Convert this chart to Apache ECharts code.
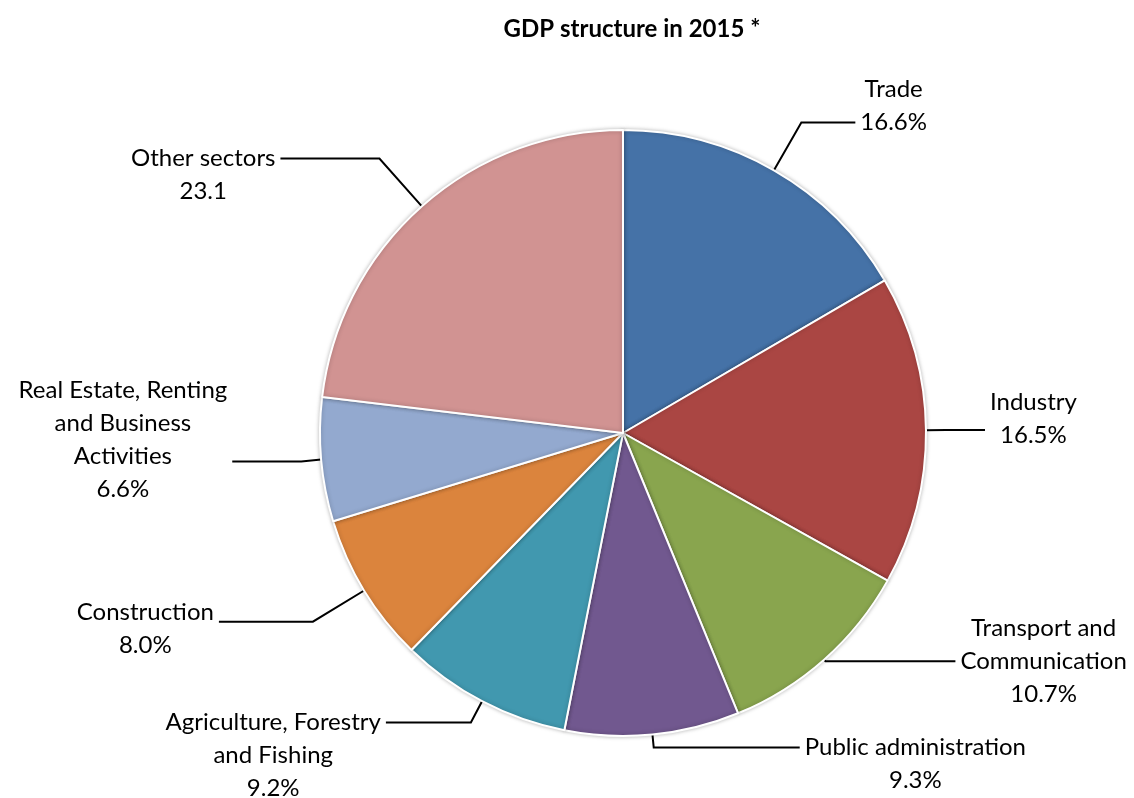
<!DOCTYPE html>
<html>
<head>
<meta charset="utf-8">
<script src="https://cdn.jsdelivr.net/npm/echarts@6/dist/echarts.min.js"></script>
<style>
html,body{margin:0;padding:0;background:#fff;}
#chart{width:1134px;height:798px;}
</style>
</head>
<body>
<div id="chart"></div>
<script>
var categories = ['Trade', 'Industry', 'Transport and\nCommunication', 'Public administration',
  'Agriculture, Forestry\nand Fishing', 'Construction', 'Real Estate, Renting\nand Business\nActivities', 'Other sectors'];
var values = [16.6, 16.5, 10.7, 9.3, 9.2, 8.0, 6.6, 23.1];
var valueSuffix = ['%', '%', '%', '%', '%', '%', '%', ''];
var colors = ['#4572A7', '#AA4643', '#89A54E', '#71588F', '#4198AF', '#DB843D', '#93A9CF', '#D19392'];

// label leader-line layout (style only)
var lineLen = [[55, 54], [20, 39], [2, 130], [13, 146], [24, 85], [60, 94], [20, 69], [64, 99]];
var labelPad = [[0,0,33,0], [0,0,23,0], [0,0,0,0], [33,0,0,0], [66,0,0,0], [15,0,0,0], [0,0,44,0], [33,0,0,0]];

var FONT = 'Lato';
var chart = echarts.init(document.getElementById('chart'), null, {renderer: 'canvas'});
var data = categories.map(function (c, i) {
  return {
    name: c,
    value: values[i],
    itemStyle: {color: colors[i]},
    label: {padding: labelPad[i]},
    labelLine: {length: lineLen[i][0], length2: lineLen[i][1]}
  };
});
chart.setOption({
  animation: false,
  title: {
    text: 'GDP structure in 2015 *',
    left: 627,
    textAlign: 'center',
    top: 12,
    textStyle: {fontFamily: FONT, fontWeight: 'bold', fontSize: 24, color: '#000'}
  },
  series: [{
    type: 'pie',
    center: [623, 433],
    radius: 303,
    startAngle: 90,
    clockwise: true,
    avoidLabelOverlap: false,
    labelLayout: {hideOverlap: false, moveOverlap: false},
    data: data,
    itemStyle: {borderColor: '#fff', borderWidth: 2, shadowBlur: 4, shadowColor: 'rgba(0,0,0,0.25)'},
    label: {
      show: true,
      position: 'outside',
      distanceToLabelLine: 5,
      color: '#000',
      fontFamily: FONT,
      fontSize: 24,
      lineHeight: 33,
      formatter: function (p) {
        var lines = p.name.split('\n');
        lines.push(p.value.toFixed(1) + valueSuffix[p.dataIndex]);
        return lines.map(function (s) { return '{c|' + s + '}'; }).join('\n');
      },
      rich: {
        c: {align: 'center', fontFamily: FONT, fontSize: 24, lineHeight: 33, color: '#000'}
      }
    },
    labelLine: {show: true, lineStyle: {color: '#000', width: 2}},
    emphasis: {disabled: true}
  }]
});
</script>
</body>
</html>
